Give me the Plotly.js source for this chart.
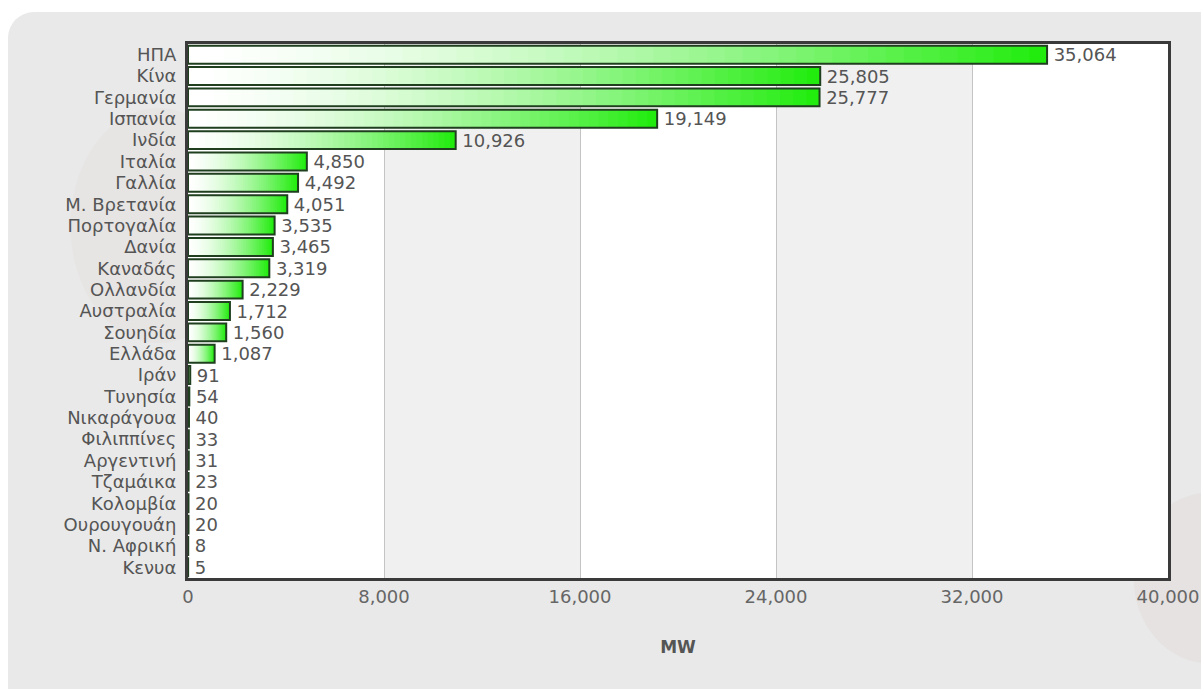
<!DOCTYPE html>
<html>
<head>
<meta charset="utf-8">
<script src="https://cdn.plot.ly/plotly-3.0.1.min.js"></script>
<style>
  html, body { margin: 0; padding: 0; background: #ffffff; overflow: hidden; }
  #panel { position: absolute; left: 8px; top: 12px; width: 1300px; height: 800px;
           background: #e9e9e9; border-top-left-radius: 26px; }
  #chart { position: absolute; left: 0; top: 0; width: 1201px; height: 689px; }
</style>
</head>
<body>
<div id="panel"></div>
<div id="chart"></div>
<script>
// Data
const countries = ["ΗΠΑ","Κίνα","Γερμανία","Ισπανία","Ινδία","Ιταλία","Γαλλία","Μ. Βρετανία",
  "Πορτογαλία","Δανία","Καναδάς","Ολλανδία","Αυστραλία","Σουηδία","Ελλάδα","Ιράν","Τυνησία",
  "Νικαράγουα","Φιλιππίνες","Αργεντινή","Τζαμάικα","Κολομβία","Ουρουγουάη","Ν. Αφρική","Κενυα"];
const capacityMW = [35064,25805,25777,19149,10926,4850,4492,4051,3535,3465,3319,2229,1712,1560,1087,
  91,54,40,33,31,23,20,20,8,5];
const xTicks = [0,8000,16000,24000,32000,40000];
const xTitle = "MW";

// Gradient bars: overlaid bars of decreasing length, green -> white
const N = 48;
const startC = [255,255,255], endC = [34,236,14];
const traces = [];
for (let k = 0; k < N; k++) {
  const f = (N - k) / N;
  const c = startC.map((s,i) => Math.round(s + (endC[i]-s) * Math.pow(f, 1.6)));
  traces.push({
    type: 'bar', orientation: 'h',
    y: countries, x: capacityMW.map(v => v * f),
    width: 0.84,
    marker: { color: `rgb(${c[0]},${c[1]},${c[2]})`, line: { width: 0 } },
    hoverinfo: 'skip', showlegend: false
  });
}
// outline + value labels
traces.push({
  type: 'bar', orientation: 'h',
  y: countries, x: capacityMW,
  width: 0.84,
  marker: { color: 'rgba(0,0,0,0)', line: { color: '#1f3f1f', width: 2 } },
  text: capacityMW.map(v => '\u2009' + v.toLocaleString('en-US')),
  textposition: 'outside', constraintext: 'none', cliponaxis: false,
  textfont: { family: 'DejaVu Sans', size: 18, color: '#555555' },
  hoverinfo: 'y+x', showlegend: false
});

// faint watermark + alternating background bands between ticks
const shapes = [
  { type: 'circle', xref: 'paper', yref: 'paper', layer: 'below',
    x0: -0.12, x1: 0.06, y0: 0.44, y1: 0.88, line: { width: 0 }, fillcolor: 'rgba(215,185,185,0.10)' },
  { type: 'circle', xref: 'paper', yref: 'paper', layer: 'below',
    x0: 0.965, x1: 1.12, y0: -0.16, y1: 0.16, line: { width: 0 }, fillcolor: 'rgba(215,185,185,0.14)' }
];
for (let i = 0; i < xTicks.length - 1; i++) {
  shapes.push({ type: 'rect', xref: 'x', yref: 'paper', layer: 'below',
    x0: xTicks[i], x1: xTicks[i+1], y0: 0, y1: 1, line: { width: 0 },
    fillcolor: i % 2 === 0 ? '#ffffff' : '#f0f0f0' });
}

const layout = {
  width: 1201, height: 689,
  margin: { l: 188, r: 33, t: 44, b: 111 },
  paper_bgcolor: 'rgba(0,0,0,0)', plot_bgcolor: '#ffffff',
  barmode: 'overlay', bargap: 0.16,
  font: { family: 'DejaVu Sans', color: '#555555' },
  xaxis: {
    range: [0, 40000], tickvals: xTicks, tickformat: ',d',
    showgrid: true, gridcolor: '#c4c4c4', gridwidth: 1, zeroline: false,
    showline: true, mirror: true, linecolor: '#3a3a3a', linewidth: 3,
    ticks: '', 
    tickfont: { family: 'DejaVu Sans', size: 18, color: '#666666' },
    title: { text: '<b>' + xTitle + '</b>', standoff: 36,
             font: { family: 'DejaVu Sans', size: 17, color: '#555555' } }
  },
  yaxis: {
    autorange: 'reversed', type: 'category',
    tickmode: 'array', tickvals: countries, ticktext: countries,
    showline: true, mirror: true, linecolor: '#3a3a3a', linewidth: 3,
    showgrid: false, zeroline: false,
    ticks: 'outside', ticklen: 5, tickcolor: 'rgba(0,0,0,0)',
    tickfont: { family: 'DejaVu Sans', size: 18, color: '#555555' }
  },
  shapes: shapes
};

Plotly.newPlot('chart', traces, layout, { displayModeBar: false, staticPlot: true });
</script>
</body>
</html>
